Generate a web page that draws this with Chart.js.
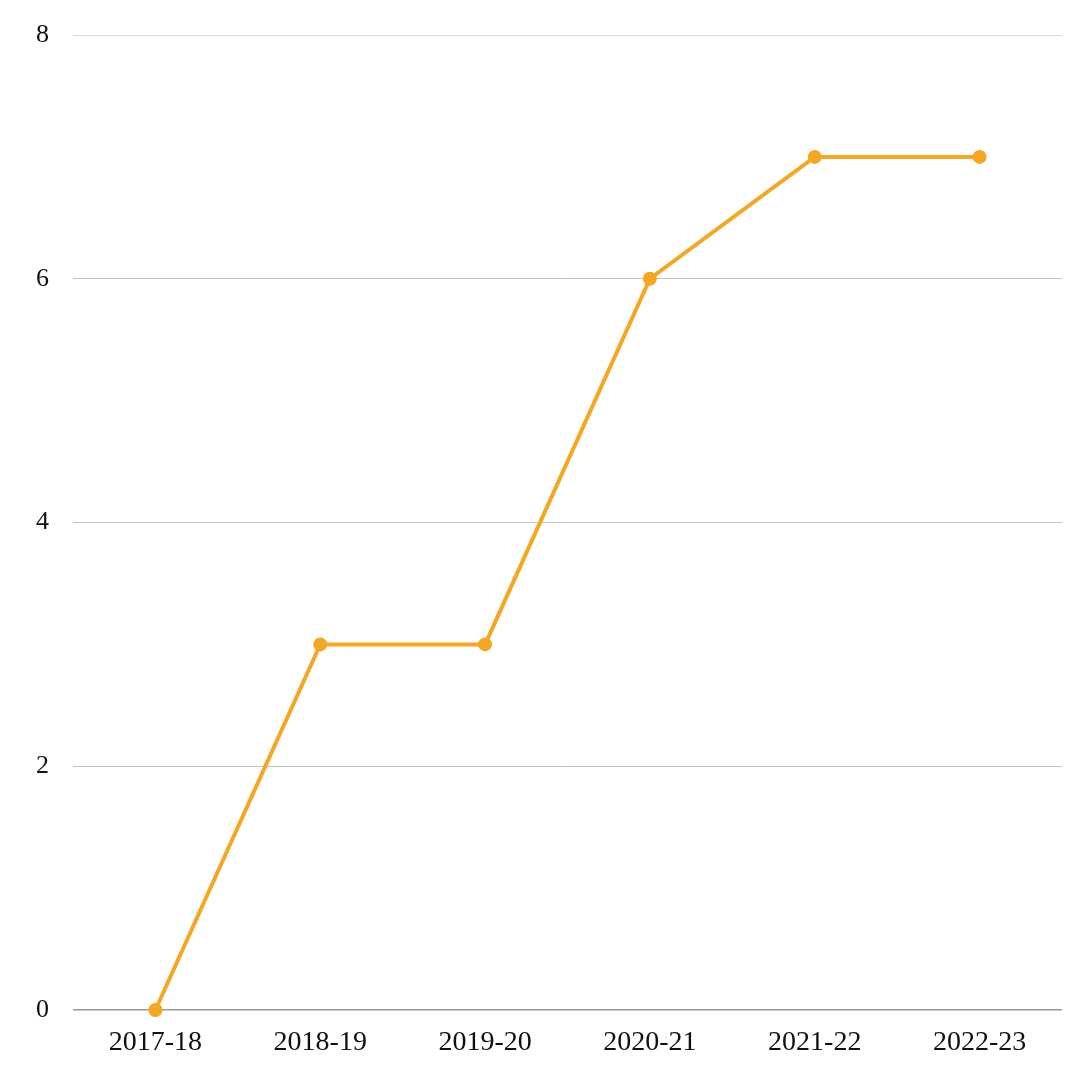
<!DOCTYPE html>
<html><head><meta charset="utf-8">
<script src="https://cdn.jsdelivr.net/npm/chart.js@4"></script>
<style>html,body{margin:0;padding:0;background:#fff}#w{width:1080px;height:1080px}</style>
</head><body><div id="w"><canvas id="c" width="1080" height="1080"></canvas></div>
<script>
const categories = ["2017-18","2018-19","2019-20","2020-21","2021-22","2022-23"];
const values = [0,3,3,6,7,7];
const yTicks = [0,2,4,6,8];
const FONT = "'Liberation Serif', 'DejaVu Serif', serif";
new Chart(document.getElementById('c'), {
  type: 'line',
  data: { labels: categories, datasets: [{
    data: values, borderColor: '#F5A623', backgroundColor: '#F5A623',
    borderWidth: 4, pointRadius: 5, pointHoverRadius: 5, tension: 0, fill: false, clip: false
  }]},
  options: {
    responsive: false, animation: false,
    layout: { padding: { top: 35, right: 18, left: 0, bottom: 0 } },
    plugins: { legend: { display: false }, tooltip: { enabled: false } },
    scales: {
      x: {
        offset: true,
        grid: { display: false, drawTicks: false },
        border: { display: false },
        ticks: { color: '#111', font: { family: FONT, size: 28 }, padding: 16, maxRotation: 0 },
        afterFit(s) { s.height = 70; s.paddingLeft = 0; s.paddingRight = 0; }
      },
      y: {
        min: 0, max: 8,
        afterBuildTicks(s) { s.ticks = yTicks.map(v => ({ value: v })); },
        grid: {
          drawTicks: false,
          color: c => c.tick && c.tick.value === 0 ? '#999999' : (c.tick && c.tick.value === 8 ? '#dddddd' : '#c4c4c4'),
          lineWidth: c => c.tick && c.tick.value === 0 ? 1.5 : 1
        },
        border: { display: false },
        ticks: { color: '#111', font: { family: FONT, size: 26 }, padding: 24 },
        afterFit(s) { s.width = 73; s.paddingTop = 0; s.paddingBottom = 0; }
      }
    }
  }
});
</script></body></html>
